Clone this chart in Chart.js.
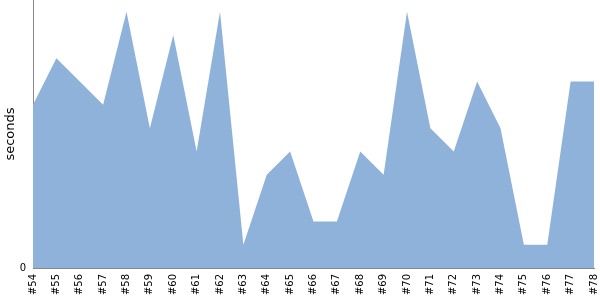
<!DOCTYPE html>
<html>
<head>
<meta charset="utf-8">
<script src="https://cdn.jsdelivr.net/npm/chart.js@4"></script>
<style>
  html, body { margin: 0; padding: 0; background: #fff; }
  #wrap { width: 600px; height: 300px; }
</style>
</head>
<body>
<div id="wrap"><canvas id="chart"></canvas></div>
<script>
// builds #54 .. #78
const builds = ["#54", "#55", "#56", "#57", "#58", "#59", "#60", "#61", "#62", "#63",
    "#64", "#65", "#66", "#67", "#68", "#69", "#70", "#71", "#72", "#73",
    "#74", "#75", "#76", "#77", "#78"];
// duration per build, in seconds
const durations = [7, 9, 8, 7, 11, 6, 10, 5, 11, 1,
    4, 5, 2, 2, 5, 4, 11, 6, 5, 8,
    6, 1, 1, 8, 8];
const yTicks = [0];

const fillColor = "rgb(143,178,219)";
const axisColor = "#888888";

new Chart(document.getElementById("chart"), {
    type: "line",
    data: {
        labels: builds,
        datasets: [{
            data: durations,
            borderWidth: 0,
            borderColor: fillColor,
            backgroundColor: fillColor,
            fill: "origin",
            tension: 0,
            pointRadius: 0
        }]
    },
    options: {
        responsive: true,
        maintainAspectRatio: false,
        animation: false,
        layout: { padding: { top: 0, right: 6, bottom: 0, left: 0 } },
        plugins: {
            legend: { display: false },
            tooltip: { enabled: false }
        },
        scales: {
            x: {
                offset: false,
                grid: { display: false, drawTicks: false },
                border: { color: axisColor, width: 1 },
                ticks: {
                    color: "#000",
                    font: { family: "DejaVu Sans", size: 10 },
                    minRotation: 90,
                    maxRotation: 90,
                    autoSkip: false,
                    padding: 6
                },
                afterFit: s => {
                    s.height = 32;
                    s.paddingLeft = 0;
                    s.paddingRight = 0;
                }
            },
            y: {
                min: 0,
                max: 11.5,
                afterBuildTicks: s => { s.ticks = yTicks.map(v => ({ value: v })); },
                grid: { display: false, drawTicks: true, tickLength: 5, tickColor: axisColor },
                border: { color: axisColor, width: 1 },
                ticks: {
                    color: "#000",
                    font: { family: "DejaVu Sans", size: 10 },
                    padding: 2
                },
                title: {
                    display: true,
                    text: "seconds",
                    color: "#000",
                    font: { family: "DejaVu Sans", size: 13 },
                    padding: { top: 3, bottom: 0 }
                },
                afterFit: s => {
                    s.width = 33;
                    s.paddingTop = 0;
                    s.paddingBottom = 0;
                }
            }
        }
    }
});
</script>
</body>
</html>
